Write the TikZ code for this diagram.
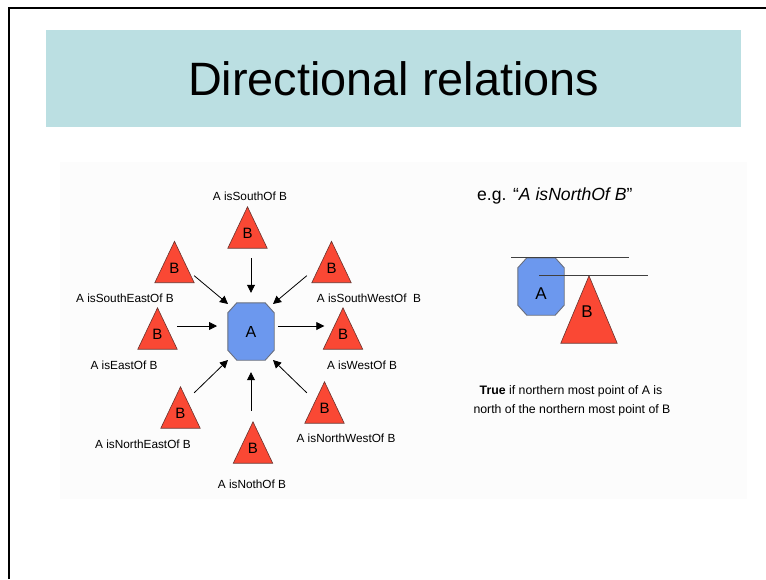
\documentclass[tikz,border=0pt]{standalone}
\usepackage{fontspec}
\setmainfont{Liberation Sans}
\usetikzlibrary{arrows.meta}
\pgfdeclarelayer{background}
\pgfsetlayers{background,main}

\definecolor{titlebg}{RGB}{187,223,226}
\definecolor{panelbg}{RGB}{252,252,252}
\definecolor{trifill}{RGB}{250,72,52}
\definecolor{triedge}{RGB}{105,50,45}
\definecolor{octfill}{RGB}{108,152,238}
\definecolor{octedge}{RGB}{105,110,125}

\tikzset{
  titleband/.style={fill=titlebg, minimum width=695pt, minimum height=97pt, inner sep=0pt,
    font=\fontsize{46.8}{52}\selectfont},
  octbox/.style={minimum width=46pt, minimum height=57pt, inner sep=0pt,
    font=\fontsize{16}{18}\selectfont},
  tribox/.style={minimum width=39pt, minimum height=41pt, inner sep=0pt},
  bigtribox/.style={minimum width=56pt, minimum height=67pt, inner sep=0pt},
  letter/.style={inner sep=0pt, font=\fontsize{15}{18}\selectfont},
  bigletter/.style={inner sep=0pt, font=\fontsize{17}{20}\selectfont},
  caption/.style={inner sep=0pt, anchor=base, font=\fontsize{11.8}{14}\selectfont},
  note/.style={inner sep=0pt, anchor=base, font=\fontsize{12.3}{15}\selectfont},
  example/.style={inner sep=0pt, anchor=base west, font=\fontsize{17.6}{20}\selectfont},
  arr/.style={-{Triangle[length=8pt,width=8pt]}, line width=0.8pt},
  tri/.style={fill=trifill, draw=triedge, line width=0.6pt},
  octo/.style={fill=octfill, draw=octedge, line width=0.9pt},
  guide/.style={line width=0.8pt, draw=black!75}
}

% octagon filling the rectangle of node #1, corners cut 9pt x 10pt
\newcommand\octoshape[1]{%
  \filldraw[octo] ([xshift=9pt]#1.north west) -- ([xshift=-9pt]#1.north east)
    -- ([yshift=-10pt]#1.north east) -- ([yshift=10pt]#1.south east)
    -- ([xshift=-9pt]#1.south east) -- ([xshift=9pt]#1.south west)
    -- ([yshift=10pt]#1.south west) -- ([yshift=-10pt]#1.north west) -- cycle;}
% triangle filling the rectangle of node #1
\newcommand\trishape[1]{%
  \filldraw[tri] (#1.north) -- (#1.south east) -- (#1.south west) -- cycle;}

\begin{document}
\begin{tikzpicture}[x=1pt,y=-1pt]
\useasboundingbox (0,0) rectangle (766,579);

% slide frame
\draw[line width=2pt] (8.5,579) -- (8.5,7.5) -- (766,7.5);

% title band
\node[titleband] (title) at (393.5,78.5) {Directional relations};

% ---- left figure: A surrounded by eight B's ----
\node[octbox] (A) at (251,331.5) {A};

\node[tribox] (tS)  at (247.5,227.5) {};
\node[tribox] (tSE) at (174.5,262) {};
\node[tribox] (tSW) at (331.5,262) {};
\node[tribox] (tE)  at (157.5,328.5) {};
\node[tribox] (tW)  at (343,328.5) {};
\node[tribox] (tNE) at (180.5,407.5) {};
\node[tribox] (tNW) at (324.5,402.5) {};
\node[tribox] (tN)  at (253,442.5) {};

\foreach \t in {tS,tSE,tSW,tE,tW,tNE,tNW,tN}{
  \node[letter] (\t-b) at ([yshift=-6pt]\t.center) {B};
}

\node[caption] (cS)  at (250,200) {A isSouthOf B};
\node[caption] (cSE) at (125,302) {A isSouthEastOf B};
\node[caption] (cSW) at (369,302) {A isSouthWestOf\ \ B};
\node[caption] (cE)  at (124,369) {A isEastOf B};
\node[caption] (cW)  at (362,369) {A isWestOf B};
\node[caption] (cNE) at (143,448) {A isNorthEastOf B};
\node[caption] (cNW) at (346,442) {A isNorthWestOf B};
\node[caption] (cN)  at (252,488) {A isNothOf B};

\draw[arr] ([shift={(3.5,10)}]tS.south) -- ([shift={(0,-10)}]A.north);
\draw[arr] ([shift={(0,-7)}]tSE.south east) -- ([shift={(-23,-27.5)}]A.center);
\draw[arr] ([shift={(0,-2.5)}]tE.east) -- ([shift={(-34,-5.5)}]A.center);
\draw[arr] ([shift={(-5,-7)}]tSW.south west) -- ([shift={(22,-27.5)}]A.center);
\draw[arr] ([shift={(27,-5.5)}]A.center) -- ([shift={(1,-2.5)}]tW.west);
\draw[arr] ([shift={(-6,6)}]tNE.north east) -- ([shift={(-23,28.5)}]A.center);
\draw[arr] ([shift={(-2,-11)}]tN.north) -- ([shift={(0,12)}]A.south);
\draw[arr] ([shift={(2,11)}]tNW.north west) -- ([shift={(22,28.5)}]A.center);

% ---- right figure: example of isNorthOf ----
\node[example] (eg) at (477,200) {e.g. “\textit{A isNorthOf B}”};

\node[octbox] (A2) at (541,286.5) {};
\node[bigletter] (A2-a) at ([yshift=-7.5pt]A2.center) {A};
\node[bigtribox] (B2) at (589,309.5) {};
\node[bigletter] (B2-b) at ([shift={(-2,2)}]B2.center) {B};

\draw[guide] ([xshift=-30pt]A2.north) -- ([xshift=88pt]A2.north);
\draw[guide] ([xshift=-50pt]B2.north) -- ([xshift=59pt]B2.north);

\node[note] (true1) at (571,394) {\textbf{True} if northern most point of A is};
\node[note] (true2) at (572,413) {north of the northern most point of B};

% light panel, then the shapes behind their letters
\begin{pgfonlayer}{background}
  \fill[panelbg] (60,162) rectangle (747,499);
  \octoshape{A}
  \octoshape{A2}
  \foreach \t in {tS,tSE,tSW,tE,tW,tNE,tNW,tN,B2}{
    \trishape{\t}
  }
\end{pgfonlayer}
\end{tikzpicture}
\end{document}
